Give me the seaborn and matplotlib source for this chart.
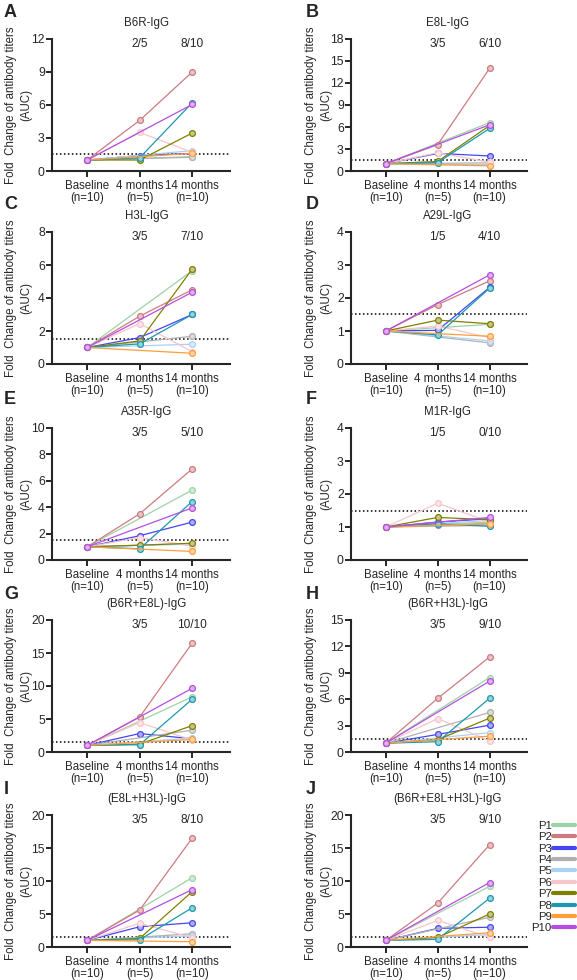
import matplotlib
matplotlib.use("Agg")
import numpy as np
import pandas as pd
import matplotlib.pyplot as plt
import matplotlib.colors as mcolors
from matplotlib.lines import Line2D
import seaborn as sns

sns.set_style("ticks")
plt.rcParams['font.family'] = ['Liberation Sans', 'DejaVu Sans']

# participants and colours
participants = ['P1', 'P2', 'P3', 'P4', 'P5', 'P6', 'P7', 'P8', 'P9', 'P10']
colors = ['#9ed3a6', '#cc7c80', '#4646f0', '#b0b0b0', '#aad2f2',
          '#f7c5cc', '#808000', '#1c98b0', '#ff9e3a', '#b54ee0']
timepoints = ['Baseline\n(n=10)', '4 months\n(n=5)', '14 months\n(n=10)']

panel_letters = ['A', 'B', 'C', 'D', 'E', 'F', 'G', 'H', 'I', 'J']
titles = ['B6R-IgG', 'E8L-IgG', 'H3L-IgG', 'A29L-IgG', 'A35R-IgG', 'M1R-IgG',
          '(B6R+E8L)-IgG', '(B6R+H3L)-IgG', '(E8L+H3L)-IgG', '(B6R+E8L+H3L)-IgG']
frac_4m = ['2/5', '3/5', '3/5', '1/5', '3/5', '1/5', '3/5', '3/5', '3/5', '3/5']
frac_14m = ['8/10', '6/10', '7/10', '4/10', '5/10', '0/10', '10/10', '9/10', '8/10', '9/10']
ymax = [12, 18, 8, 4, 10, 4, 20, 15, 20, 20]
ystep = [3, 3, 2, 1, 2, 1, 5, 3, 5, 5]

nan = np.nan
# fold change at baseline is 1 for everyone
baseline = [1.0] * 10
# 4 months: only P2, P3, P6, P7, P8 sampled
m4_A = [nan, 4.6, 1.4, nan, nan, 3.5, 1.0, 1.2, nan, nan]
m4_B = [nan, 3.6, 2.4, nan, nan, 2.5, 1.3, 1.15, nan, nan]
m4_C = [nan, 2.9, 1.6, nan, nan, 2.45, 1.4, 1.22, nan, nan]
m4_D = [nan, 1.8, 1.02, nan, nan, 1.15, 1.33, 0.88, nan, nan]
m4_E = [nan, 3.5, 1.84, nan, nan, 1.7, 1.12, 0.85, nan, nan]
m4_F = [nan, 1.05, 1.15, nan, nan, 1.72, 1.29, 1.1, nan, nan]
m4_G = [nan, 5.3, 2.8, nan, nan, 4.45, 1.2, 1.1, nan, nan]
m4_H = [nan, 6.1, 2.0, nan, nan, 3.8, 1.4, 1.17, nan, nan]
m4_I = [nan, 5.6, 3.07, nan, nan, 3.6, 1.3, 1.1, nan, nan]
m4_J = [nan, 6.65, 2.82, nan, nan, 4.03, 1.45, 1.16, nan, nan]
# 14 months
m14_A = [1.3, 9.0, 1.6, 1.25, 1.85, 1.7, 3.45, 6.2, 1.6, 6.05]
m14_B = [6.6, 14.0, 2.05, 1.1, 1.0, 1.2, 6.2, 5.8, 0.7, 6.3]
m14_C = [5.65, 4.5, 3.0, 1.68, 1.2, 0.75, 5.75, 3.0, 0.65, 4.35]
m14_D = [1.2, 2.52, 2.32, 0.64, 0.7, 0.8, 1.22, 2.3, 0.84, 2.7]
m14_E = [5.3, 6.9, 2.87, 1.25, 1.2, 1.05, 1.27, 4.43, 0.65, 3.95]
m14_F = [1.15, 1.1, 1.25, 1.05, 1.2, 1.15, 1.22, 1.02, 1.1, 1.29]
m14_G = [8.35, 16.5, 2.0, 3.3, 2.1, 1.8, 4.0, 8.0, 1.9, 9.65]
m14_H = [8.45, 10.8, 3.05, 4.5, 2.2, 1.25, 3.85, 6.1, 1.8, 8.05]
m14_I = [10.5, 16.5, 3.67, 2.0, 1.7, 1.4, 8.4, 5.95, 0.8, 8.7]
m14_J = [9.2, 15.5, 3.0, 4.5, 1.9, 1.45, 5.0, 7.4, 2.17, 9.77]

m4_all = [m4_A, m4_B, m4_C, m4_D, m4_E, m4_F, m4_G, m4_H, m4_I, m4_J]
m14_all = [m14_A, m14_B, m14_C, m14_D, m14_E, m14_F, m14_G, m14_H, m14_I, m14_J]

W, H = 577, 980
fig = plt.figure(figsize=(W / 100, H / 100), dpi=100)

row_tops = [39, 232, 428, 620, 815]
col_left = [52, 351]
col_width = [178, 176]
ax_h = 132
letter_tops = [4, 196, 391, 586, 781]
letter_x = [4, 306]
ylab_right = [32, 332]
title_x = [0.53, 0.55]

fs = 8.3

def lighten(c, f=0.55):
    r, g, b = mcolors.to_rgb(c)
    return (r + (1 - r) * f, g + (1 - g) * f, b + (1 - b) * f)

for k in range(10):
    row, col = k // 2, k % 2
    left = col_left[col] / W
    bottom = 1 - (row_tops[row] + ax_h) / H
    ax = fig.add_axes([left, bottom, col_width[col] / W, ax_h / H])

    rows = []
    for i, p in enumerate(participants):
        rows.append((p, 0, baseline[i]))
        if not np.isnan(m4_all[k][i]):
            rows.append((p, 1, m4_all[k][i]))
        rows.append((p, 2, m14_all[k][i]))
    df = pd.DataFrame(rows, columns=['pid', 't', 'v'])

    sns.lineplot(data=df, x='t', y='v', hue='pid', hue_order=participants,
                 palette=colors, marker='o', markersize=4.2, linewidth=0.9,
                 errorbar=None, legend=False, ax=ax)
    for line in ax.lines:
        c = line.get_color()
        line.set_markeredgecolor(c)
        line.set_markerfacecolor(lighten(c))
        line.set_markeredgewidth(0.9)

    ax.axhline(1.5, color='black', lw=1.1, ls=(0, (1, 1.6)), zorder=1)

    ax.set_xlim(-0.67, 2.72)
    ax.set_ylim(0, ymax[k])
    ax.set_yticks(np.arange(0, ymax[k] + 0.01, ystep[k]))
    ax.set_xticks([0, 1, 2])
    ax.set_xticklabels(timepoints, fontsize=fs, linespacing=1.05)
    ax.tick_params(axis='y', labelsize=fs + 0.5, pad=1.2)
    ax.tick_params(axis='x', pad=2.2)
    ax.tick_params(length=4, width=1.4, direction='out')
    ax.set_xlabel('')
    ax.set_ylabel('Fold  Change of antibody titers\n(AUC)', fontsize=fs,
                  linespacing=1.3)
    ax.yaxis.set_label_coords((ylab_right[col] - col_left[col]) / col_width[col], 0.5)
    sns.despine(ax=ax)
    for s in ['left', 'bottom']:
        ax.spines[s].set_linewidth(1.5)

    ax.text(title_x[col], 1.12, titles[k], transform=ax.transAxes,
            ha='center', va='center', fontsize=fs)
    tr = ax.get_xaxis_transform()
    ax.text(1, 0.96, frac_4m[k], transform=tr, ha='center', va='center', fontsize=fs + 0.3)
    ax.text(2, 0.96, frac_14m[k], transform=tr, ha='center', va='center', fontsize=fs + 0.3)

    fig.text(letter_x[col] / W, 1 - letter_tops[row] / H, panel_letters[k],
             ha='left', va='top', fontsize=13, fontweight='bold')

handles = [Line2D([0], [0], color=c, lw=3) for c in colors]
fig.legend(handles, participants, loc='upper right',
           bbox_to_anchor=(575 / W, 1 - 821 / H), frameon=False,
           markerfirst=False, handlelength=1.9, handletextpad=0.15,
           labelspacing=0.12, fontsize=8.2, borderpad=0, borderaxespad=0)

fig.savefig('out.png', dpi=100)
